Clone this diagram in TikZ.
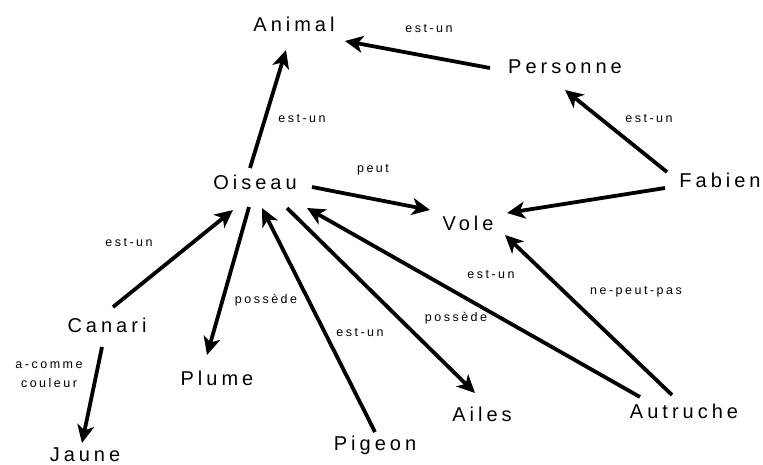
\documentclass[tikz,border=0pt]{standalone}
\usepackage{fontspec}
\usetikzlibrary{arrows.meta}

% Wide-tracked sans for the concepts and the relations
\newfontfamily\conceptfam[LetterSpace=20]{Liberation Sans}
\newfontfamily\relfam[LetterSpace=20]{Liberation Sans}

\tikzset{
    concept/.style={font={\conceptfam\fontsize{20pt}{22pt}\selectfont},
        inner sep=4pt, text height=14.5pt, text depth=0pt},
    rel/.style={font={\relfam\fontsize{12.5pt}{19pt}\selectfont}, inner sep=0pt},
    link/.style={line width=3.8pt,
        -{Stealth[length=18pt,width=17pt,inset=5pt]}}
}

\begin{document}
\begin{tikzpicture}[x=1pt, y=-1pt]

    % Page frame, y runs downwards
    \useasboundingbox (0,0) rectangle (763,464);

    % The concepts
    \node[concept] (animal) at (294,24) {Animal};
    \node[concept] (personne) at (565,66) {Personne};
    \node[concept] (oiseau) at (255,182) {Oiseau};
    \node[concept] (fabien) at (720,180) {Fabien};
    \node[concept] (vole) at (468,223) {Vole};
    \node[concept] (canari) at (107,325) {Canari};
    \node[concept] (plume) at (217,378) {Plume};
    \node[concept] (ailes) at (482,414) {Ailes};
    \node[concept] (autruche) at (684,411) {Autruche};
    \node[concept] (pigeon) at (375,443) {Pigeon};
    \node[concept] (jaune) at (85,454) {Jaune};

    % Oiseau is an Animal
    \draw[link] ([shift={(-5,-14)}]oiseau.center) -- ([shift={(-8,26)}]animal.center);
    \node[rel] at (302,119) {est-un};

    % Personne is an Animal
    \draw[link] ([shift={(-75,2)}]personne.center) -- ([shift={(51,17)}]animal.center);
    \node[rel] at (429,29) {est-un};

    % Fabien is a Personne, and flies
    \draw[link] ([shift={(-53,-8)}]fabien.center) -- ([shift={(0,24)}]personne.center);
    \node[rel] at (649,119) {est-un};
    \draw[link] ([shift={(-55,8)}]fabien.center) -- ([shift={(39,-10)}]vole.center);

    % Oiseau can fly
    \draw[link] ([shift={(57,5)}]oiseau.center) -- ([shift={(-38,-13)}]vole.center);
    \node[rel] at (373,170) {peut};

    % Autruche cannot fly, but is an Oiseau
    \draw[link] ([shift={(-12,-16)}]autruche.center) -- ([shift={(37,12)}]vole.center);
    \node[rel] at (636,292) {ne-peut-pas};
    \draw[link] ([shift={(-44,-14)}]autruche.center) -- ([shift={(52,26)}]oiseau.center);
    \node[rel] at (491,275) {est-un};

    % What an Oiseau has
    \draw[link] ([shift={(32,26)}]oiseau.center) -- ([shift={(-7,-21)}]ailes.center);
    \node[rel] at (456,318) {possède};
    \draw[link] ([shift={(-6,25)}]oiseau.center) -- ([shift={(-10,-23)}]plume.center);
    \node[rel] at (266,300) {possède};

    % Pigeon is an Oiseau
    \draw[link] ([shift={(0,-11)}]pigeon.center) -- ([shift={(7,26)}]oiseau.center);
    \node[rel] at (360,333) {est-un};

    % Canari is an Oiseau, and is yellow
    \draw[link] ([shift={(6,-18)}]canari.center) -- ([shift={(-22,28)}]oiseau.center);
    \node[rel] at (129,243) {est-un};
    \draw[link] ([shift={(-5,22)}]canari.center) -- ([shift={(-3,-11)}]jaune.center);
    \node[rel, align=center] at (49,375) {a-comme\\couleur};

\end{tikzpicture}
\end{document}
